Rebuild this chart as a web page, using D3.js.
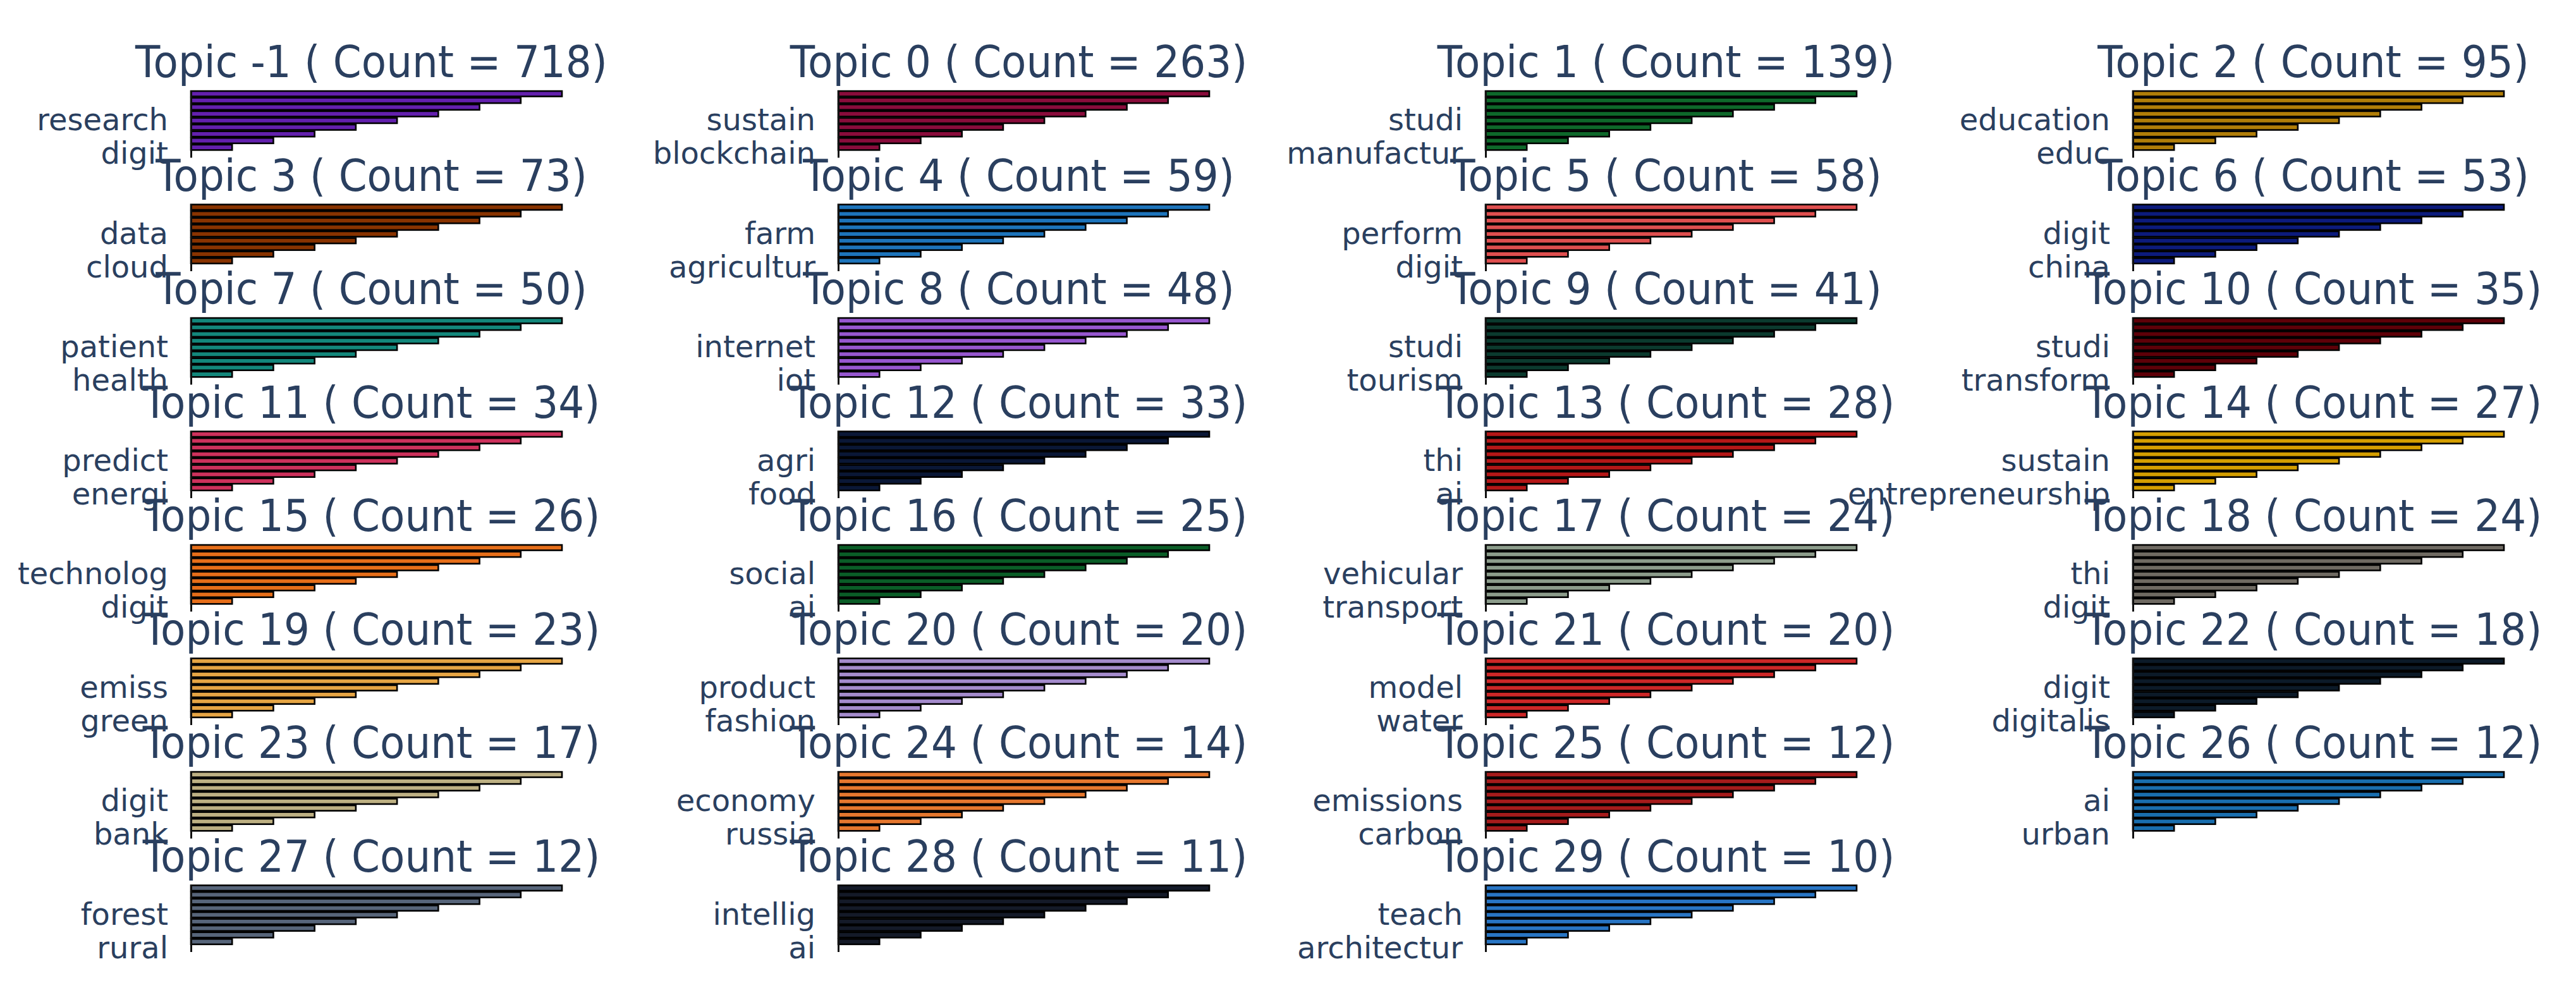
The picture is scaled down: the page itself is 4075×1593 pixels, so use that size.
<!DOCTYPE html>
<html>
<head>
<meta charset="utf-8">
<script src="https://cdn.jsdelivr.net/npm/d3@7/dist/d3.min.js"></script>
<style>
  html, body { margin: 0; padding: 0; background: #ffffff; }
  svg { display: block; }
</style>
</head>
<body>
<svg id="chart" width="4075" height="1593"></svg>
<script>
// ---------------- data ----------------
const topics = [-1, 0, 1, 2, 3, 4, 5, 6, 7, 8, 9, 10, 11, 12, 13, 14, 15, 16, 17, 18, 19, 20, 21, 22, 23, 24, 25, 26, 27, 28, 29];
const counts = [718, 263, 139, 95, 73, 59, 58, 53, 50, 48, 41, 35, 34, 33, 28, 27, 26, 25, 24, 24, 23, 20, 20, 18, 17, 14, 12, 12, 12, 11, 10];
const upperLabels = ["research", "sustain", "studi", "education", "data", "farm", "perform", "digit",
  "patient", "internet", "studi", "studi", "predict", "agri", "thi", "sustain",
  "technolog", "social", "vehicular", "thi", "emiss", "product", "model", "digit",
  "digit", "economy", "emissions", "ai", "forest", "intellig", "teach"];
const lowerLabels = ["digit", "blockchain", "manufactur", "educ", "cloud", "agricultur", "digit", "china",
  "health", "iot", "tourism", "transform", "energi", "food", "ai", "entrepreneurship",
  "digit", "ai", "transport", "digit", "green", "fashion", "water", "digitalis",
  "bank", "russia", "carbon", "urban", "rural", "ai", "architectur"];
// bar lengths (top to bottom): identical staircase in every panel
const barValues = [9, 8, 7, 6, 5, 4, 3, 2, 1];
const palette = ["#6320ad", "#890c3b", "#0e682a", "#b07d08", "#883300", "#1d74bb", "#df4f4f", "#0c1b7c",
  "#13877b", "#9757cf", "#0b3a2e", "#5e0008", "#cd315c", "#0a1736", "#b41717", "#d49e00",
  "#e66e19", "#0a5d27", "#8c9c8b", "#6f6a62", "#e6a544", "#a48bcc", "#cd2727", "#0c1a28",
  "#bdb083", "#e5772e", "#a51b1b", "#196eae", "#57657a", "#141a28", "#2875c4"];

// ---------------- layout ----------------
const svg = d3.select("#chart");
const nCols = 4;
const colX = d3.scaleLinear().domain([0, 1]).range([302, 1326]);   // axis x position per column
const rowY = d3.scaleLinear().domain([0, 1]).range([143, 322.5]);  // plot top per row
const plotW = 587, plotH = 106;
const nSlots = 10;
const titleColor = "#2a3f5f";

topics.forEach((t, i) => {
  const col = i % nCols, row = Math.floor(i / nCols);
  const x0 = colX(col), y0 = rowY(row);
  const g = svg.append("g").attr("transform", `translate(${x0},${y0})`);

  const x = d3.scaleLinear().domain([0, d3.max(barValues)]).range([0, plotW]);
  const y = d3.scaleBand().domain(d3.range(nSlots)).range([0, plotH]).paddingInner(0.2).paddingOuter(0.1);

  // title
  g.append("g")
    .attr("transform", `translate(${plotW / 2 - 8},${-21}) scale(0.92,1)`)
    .append("text")
    .attr("text-anchor", "middle")
    .attr("font-family", "DejaVu Sans, Verdana, sans-serif")
    .attr("font-size", 70)
    .attr("fill", titleColor)
    .text(`Topic ${t} ( Count = ${counts[i]})`);

  // bars
  g.selectAll("rect.bar")
    .data(barValues)
    .join("rect")
    .attr("class", "bar")
    .attr("x", 0)
    .attr("y", (d, k) => y(k))
    .attr("width", d => x(d))
    .attr("height", y.bandwidth())
    .attr("fill", palette[i])
    .attr("stroke", "#000")
    .attr("stroke-width", 2.6);

  // y axis with two visible labels
  const yAxisScale = d3.scaleBand().domain(d3.range(nSlots)).range([0, plotH]);
  const tickText = {4: upperLabels[i], 9: lowerLabels[i]};
  const ax = g.append("g")
    .call(d3.axisLeft(yAxisScale).tickValues([4, 9]).tickSize(0).tickPadding(36)
      .tickFormat(k => tickText[k]));
  ax.select(".domain").attr("stroke", "#111").attr("stroke-width", 3);
  ax.selectAll("text")
    .attr("font-family", "DejaVu Sans, Verdana, sans-serif")
    .attr("font-size", 48)
    .attr("fill", titleColor);
});
</script>
</body>
</html>
